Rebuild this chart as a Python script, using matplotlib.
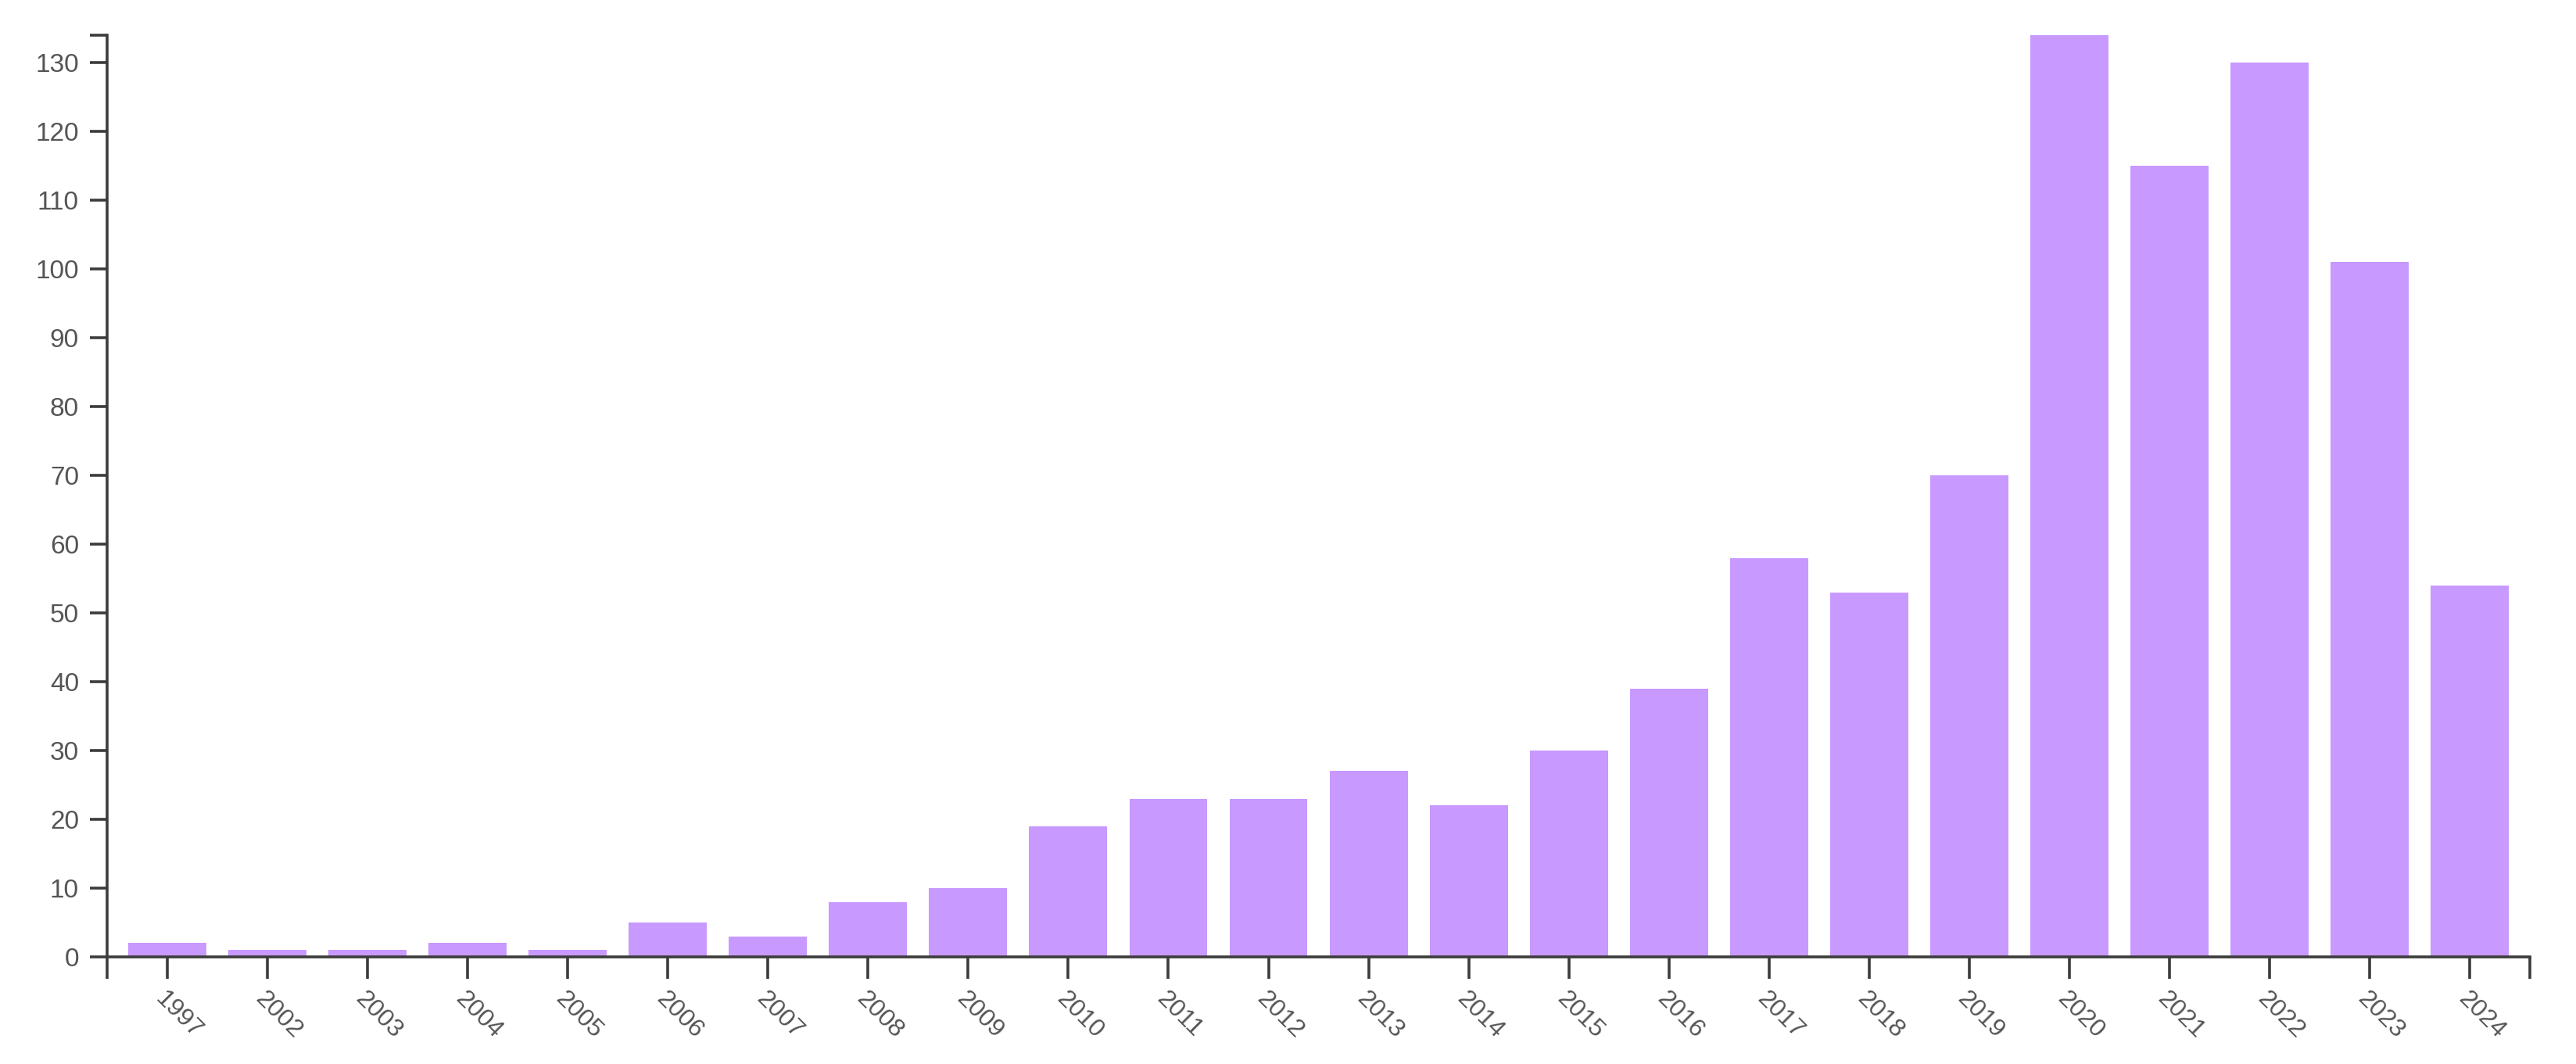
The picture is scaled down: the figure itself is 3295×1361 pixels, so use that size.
import matplotlib.pyplot as plt

years = ["1997", "2002", "2003", "2004", "2005", "2006", "2007", "2008",
         "2009", "2010", "2011", "2012", "2013", "2014", "2015", "2016",
         "2017", "2018", "2019", "2020", "2021", "2022", "2023", "2024"]
counts = [2, 1, 1, 2, 1, 5, 3, 8, 10, 19, 23, 23, 27, 22, 30, 39,
          58, 53, 70, 134, 115, 130, 101, 54]
y_ticks = list(range(0, 131, 10))

bar_color = "#C899FF"
axis_color = "#3c3c3c"
label_color = "#555555"

plt.rcParams['font.family'] = ['Liberation Sans', 'DejaVu Sans']

fig = plt.figure(figsize=(32.95, 13.61), dpi=100)
ax = fig.add_axes([0.0416, 0.1007, 0.9405, 0.8663])

x = list(range(len(years)))
ax.bar(x, counts, width=0.78, color=bar_color, zorder=1)

xmin, xmax = -0.6, len(years) - 1 + 0.6
ax.set_xlim(xmin, xmax)
ax.set_ylim(0, max(counts))

ax.set_yticks(y_ticks)
ax.set_yticklabels([str(v) for v in y_ticks])
ax.set_xticks(x)
ax.set_xticklabels(years, rotation=-45, ha='left', va='top', rotation_mode='anchor')

# d3-style outer ticks at the ends of each axis
ax.set_yticks([max(counts)], minor=True)
ax.set_xticks([xmin, xmax], minor=True)

for s in ['top', 'right']:
    ax.spines[s].set_visible(False)
for s in ['left', 'bottom']:
    ax.spines[s].set_color(axis_color)
    ax.spines[s].set_linewidth(2.6)

ax.tick_params(axis='y', which='both', length=16, width=2.6, color=axis_color,
               labelsize=24, labelcolor=label_color, pad=10)
ax.tick_params(axis='x', which='both', length=20, width=2.6, color=axis_color,
               labelsize=23, labelcolor=label_color, pad=8)
ax.tick_params(which='minor', labelleft=False, labelbottom=False)

fig.savefig("out.png", dpi=100, facecolor="white")
